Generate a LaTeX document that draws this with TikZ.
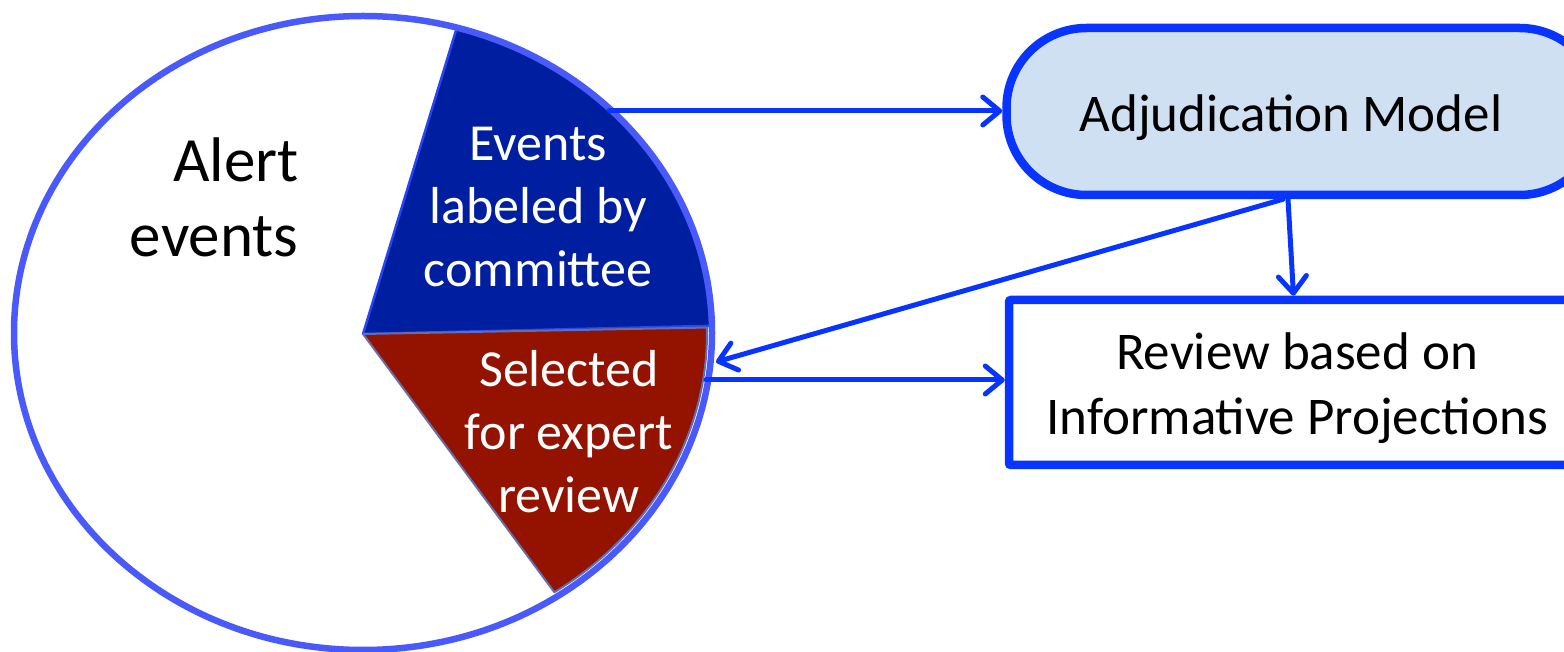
\documentclass[tikz,border=0pt]{standalone}
\usepackage{fontspec}
\setmainfont{Carlito}
\usetikzlibrary{arrows.meta,calc}
\definecolor{ellblue}{RGB}{74,90,250}
\definecolor{wedgeblue}{RGB}{0,30,160}
\definecolor{wedgeedge}{RGB}{40,70,240}
\definecolor{wedgered}{RGB}{148,18,0}
\definecolor{rededge}{RGB}{100,110,170}
\definecolor{linkblue}{RGB}{8,52,255}
\definecolor{adjfill}{RGB}{208,224,243}
\begin{document}
\begin{tikzpicture}[x=1pt,y=1pt,
  conn/.style={draw=linkblue, line width=5pt, line cap=round,
    -{Straight Barb[length=17pt,width=28pt,line cap=round,round]}},
  boxstyle/.style={draw=linkblue, line width=8.5pt, inner sep=0pt},
  wtext/.style={text=white, align=center, font=\fontsize{52}{63}\selectfont},
  ntext/.style={text=black, align=center, font=\fontsize{53}{65}\selectfont}]
\useasboundingbox (0,0) rectangle (1564,651);
\clip (0,0) rectangle (1564,651);
% ellipse background
\fill[white] (363,318) ellipse[x radius=349pt, y radius=317pt];
% blue wedge
\path[fill=wedgeblue, draw=wedgeedge, line width=2.5pt, line join=round]
  (363,317) -- ([shift={(363,318)}]74.4:349pt and 317pt)
  arc[start angle=74.4, end angle=1.3, x radius=349pt, y radius=317pt] -- cycle;
% red wedge
\path[fill=wedgered, draw=rededge, line width=2pt, line join=round]
  (363,317) -- ([shift={(363,318)}]1.0:344pt and 312pt)
  arc[start angle=1.0, end angle=-56.2, x radius=344pt, y radius=312pt] -- cycle;
% ellipse outline
\draw[ellblue, line width=6.5pt] (363,318) ellipse[x radius=349pt, y radius=317pt];
% texts in ellipse
\node[align=right, anchor=east, font=\fontsize{63}{75}\selectfont] (alert) at (302,454) {Alert\\events};
\node[wtext] (evt) at (538,444) {Events\\labeled by\\committee};
\node[wtext] (sel) at (569,219) {Selected\\for expert\\review};
% boxes
\node[boxstyle, fill=adjfill, rounded corners=80pt, minimum width=593pt, minimum height=167pt] (adj) at (1303,539.5) {};
\node[ntext] (adjtxt) at (1291,533) {Adjudication Model};
\node[boxstyle, fill=white, rounded corners=2pt, minimum width=591pt, minimum height=165pt] (rev) at (1304.5,268.5) {};
\node[ntext] (revtxt) at (1297,263) {Review based on\\Informative Projections};
% connector ends on the pie
\coordinate (p1) at (609,540);
\coordinate (p3) at (716,289);
\coordinate (p4) at (706,271);
% connectors
\draw[conn] (p1) -- (adj.west |- p1);
\draw[conn] ([xshift=-15pt]adj.south) -- ([xshift=-11pt]rev.north);
\draw[conn] ([xshift=-20pt]adj.south) -- (p3);
\draw[conn] (p4) -- (rev.west |- p4);
\end{tikzpicture}
\end{document}
